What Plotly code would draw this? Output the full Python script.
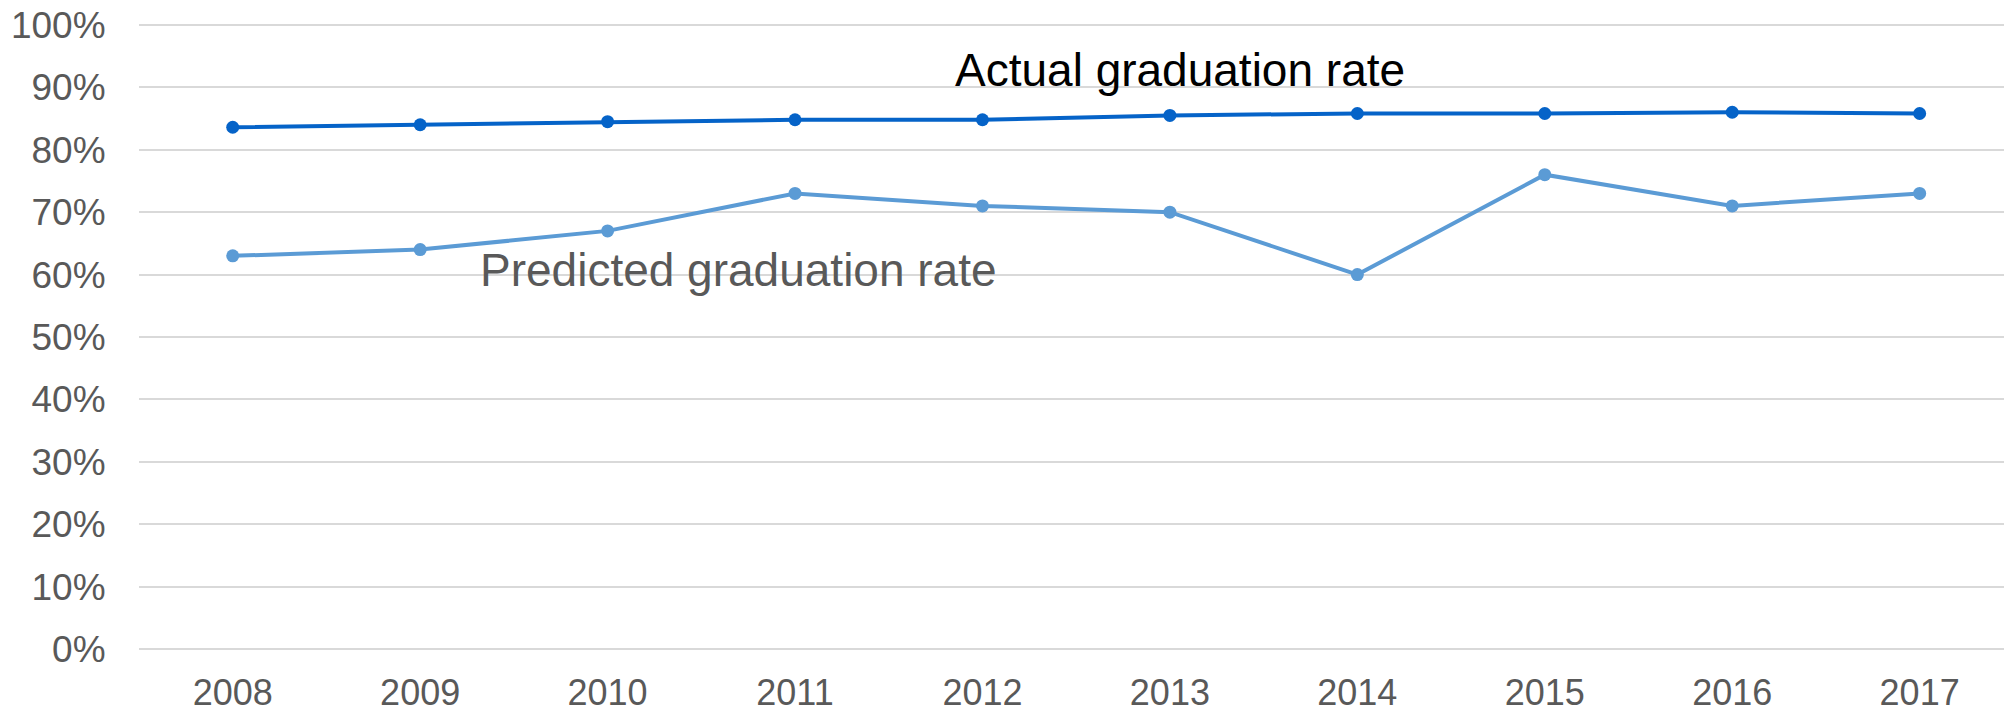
import plotly.graph_objects as go

# Graduation rates by cohort year
years = [2008, 2009, 2010, 2011, 2012, 2013, 2014, 2015, 2016, 2017]
actual_rate = [0.836, 0.840, 0.845, 0.848, 0.848, 0.855, 0.858, 0.858, 0.860, 0.858]
predicted_rate = [0.63, 0.64, 0.67, 0.73, 0.71, 0.70, 0.60, 0.76, 0.71, 0.73]

y_ticks = [0.0, 0.1, 0.2, 0.3, 0.4, 0.5, 0.6, 0.7, 0.8, 0.9, 1.0]
y_tick_text = ["0%", "10%", "20%", "30%", "40%", "50%", "60%", "70%", "80%", "90%", "100%"]

FONT = "Liberation Sans, Arial, sans-serif"
GREY = "#595959"

fig = go.Figure()

fig.add_trace(go.Scatter(
    x=years, y=predicted_rate, mode="lines+markers",
    line=dict(color="#5B9BD5", width=4),
    marker=dict(color="#5B9BD5", size=13),
    name="Predicted graduation rate", showlegend=False,
))
fig.add_trace(go.Scatter(
    x=years, y=actual_rate, mode="lines+markers",
    line=dict(color="#0563C8", width=4),
    marker=dict(color="#0563C8", size=13),
    name="Actual graduation rate", showlegend=False,
))

fig.add_annotation(
    x=2011.845, y=0.927, xref="x", yref="y",
    text="Actual graduation rate", showarrow=False,
    xanchor="left", yanchor="middle",
    font=dict(family=FONT, size=46, color="#000000"),
)
fig.add_annotation(
    x=2009.31, y=0.608, xref="x", yref="y",
    text="Predicted graduation rate", showarrow=False,
    xanchor="left", yanchor="middle",
    font=dict(family=FONT, size=46, color=GREY),
)

fig.update_layout(
    width=2004, height=711,
    margin=dict(l=139, r=0, t=23, b=60),
    paper_bgcolor="white", plot_bgcolor="white",
    font=dict(family=FONT, size=37, color=GREY),
)
fig.update_xaxes(
    range=[2007.5, 2017.45], automargin=False,
    tickmode="array", tickvals=years, ticktext=[str(y) for y in years],
    showgrid=False, zeroline=False, showline=False,
    ticks="outside", ticklen=10, tickcolor="rgba(0,0,0,0)",
    tickfont=dict(family=FONT, size=36, color=GREY),
)
fig.update_yaxes(
    range=[-0.003, 1.003], automargin=False,
    tickmode="array", tickvals=y_ticks, ticktext=y_tick_text,
    showgrid=True, gridcolor="#D9D9D9", gridwidth=2,
    zeroline=False, showline=False,
    ticks="outside", ticklen=25, tickcolor="rgba(0,0,0,0)",
    tickfont=dict(family=FONT, size=37, color=GREY),
)

fig.write_html("out.html")
